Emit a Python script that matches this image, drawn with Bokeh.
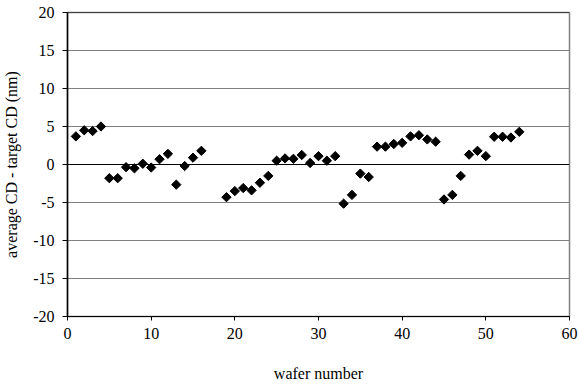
import numpy as np
from bokeh.plotting import figure
from bokeh.models import Span, FixedTicker, Range1d
from bokeh.embed import file_html
from bokeh.resources import INLINE

wafer = [1, 2, 3, 4, 5, 6, 7, 8, 9, 10, 11, 12, 13, 14, 15, 16,
         19, 20, 21, 22, 23, 24, 25, 26, 27, 28, 29, 30, 31, 32, 33, 34, 35, 36,
         37, 38, 39, 40, 41, 42, 43, 44, 45, 46, 47, 48, 49, 50, 51, 52, 53, 54]
cd_offset = [3.7, 4.5, 4.4, 5.0, -1.8, -1.8, -0.35, -0.5, 0.1, -0.4, 0.7, 1.4, -2.65, -0.2, 0.9, 1.8,
             -4.3, -3.5, -3.1, -3.4, -2.4, -1.5, 0.5, 0.8, 0.75, 1.25, 0.2, 1.1, 0.5, 1.1, -5.15, -4.0, -1.2, -1.65,
             2.35, 2.35, 2.7, 2.85, 3.7, 3.85, 3.3, 3.0, -4.6, -4.0, -1.5, 1.3, 1.8, 1.1, 3.65, 3.65, 3.55, 4.3]
x_ticks = [0, 10, 20, 30, 40, 50, 60]
y_ticks = [-20, -15, -10, -5, 0, 5, 10, 15, 20]
y_tick_labels = ["-20", "-15", "-10", "-5", "0", "5", "10", "15", "20"]

FONT = "Liberation Serif"

p = figure(width=579, height=389, output_backend="svg", toolbar_location=None,
           x_range=Range1d(0, 60), y_range=Range1d(-20, 20),
           min_border_left=67, min_border_right=10, min_border_top=12, min_border_bottom=73)

p.scatter(wafer, cd_offset, marker="square", size=6.6, angle=np.pi / 4,
          fill_color="black", line_color="black")

p.xgrid.grid_line_color = None
p.ygrid.grid_line_color = "#808080"
p.ygrid.grid_line_width = 1
p.ygrid.ticker = FixedTicker(ticks=y_ticks)

for yv in (0, 20):
    p.add_layout(Span(location=yv, dimension="width", line_color="black", line_width=1))

p.outline_line_color = "#808080"
p.outline_line_width = 1.5
p.background_fill_color = "white"
p.border_fill_color = "white"

p.xaxis.ticker = FixedTicker(ticks=x_ticks)
p.yaxis.ticker = FixedTicker(ticks=y_ticks)
p.yaxis.major_label_overrides = {t: s for t, s in zip(y_ticks, y_tick_labels)}
for ax in (p.xaxis[0], p.yaxis[0]):
    ax.axis_line_color = "black"
    ax.axis_line_width = 1
    ax.major_tick_line_color = "black"
    ax.major_tick_in = 0
    ax.major_tick_out = 5
    ax.minor_tick_line_color = None
    ax.major_label_text_font = FONT
    ax.major_label_text_font_size = "16px"
    ax.major_label_text_color = "black"
    ax.axis_label_text_font = FONT
    ax.axis_label_text_font_size = "16px"
    ax.axis_label_text_font_style = "normal"
    ax.axis_label_text_color = "black"

p.yaxis.axis_line_width = 1.5
p.yaxis.major_label_standoff = 8
p.yaxis.axis_label = "average CD - target CD (nm)"
p.yaxis.axis_label_standoff = 10
p.xaxis.major_tick_out = 4
p.xaxis.major_label_standoff = 7
p.xaxis.axis_label = "wafer number"
p.xaxis.axis_label_standoff = 23

open("out.html", "w").write(file_html(p, INLINE))
